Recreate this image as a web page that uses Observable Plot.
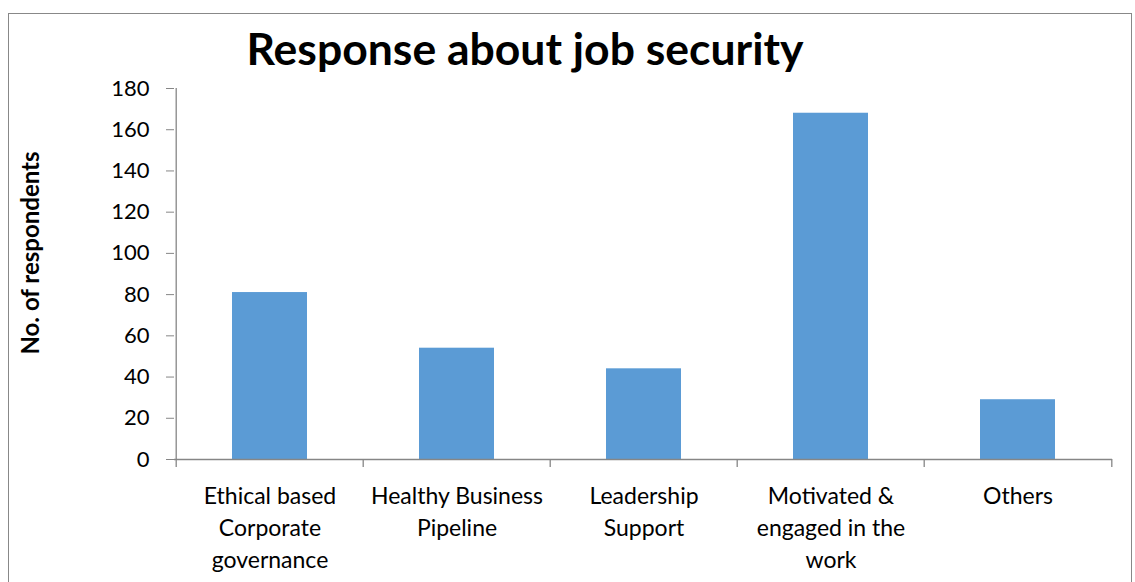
<!DOCTYPE html>
<html><head><meta charset="utf-8">
<script src="https://cdn.jsdelivr.net/npm/d3@7"></script>
<script src="https://cdn.jsdelivr.net/npm/@observablehq/plot@0.6"></script>
<style>
html,body{margin:0;padding:0;background:#fff;}
#wrap{position:relative;width:1135px;height:582px;overflow:hidden;font-family:Lato,"Open Sans",sans-serif;}
#frame{position:absolute;left:8px;top:13px;width:1124px;height:600px;border:1.5px solid #888;box-sizing:border-box;}
#title{position:absolute;left:0;width:1050px;top:20px;text-align:center;font-weight:bold;font-size:44.5px;line-height:56px;color:#000;}
#chart{position:absolute;left:0;top:0;}
</style></head>
<body><div id="wrap"><div id="frame"></div><div id="title">Response about job security</div><div id="chart"></div></div>
<script>
const categories = ["Ethical based Corporate governance","Healthy Business Pipeline","Leadership Support","Motivated & engaged in the work","Others"];
const tickLabels = ["Ethical based\nCorporate\ngovernance","Healthy Business\nPipeline","Leadership\nSupport","Motivated &\nengaged in the\nwork","Others"];
const values = [81, 54, 44, 168, 29];
const yTicks = [0,20,40,60,80,100,120,140,160,180];
const yLabel = "No. of respondents";

const data = categories.map((c,i)=>({category:c, value:values[i]}));
const W = 1135, H = 582, mL = 174, mR = 23;
const step = (W - mL - mR) / categories.length;
const labelOf = new Map(categories.map((c,i)=>[c,tickLabels[i]]));

const plot = Plot.plot({
  width: W, height: H,
  marginLeft: mL, marginRight: mR, marginTop: 88, marginBottom: 123,
  style: {fontFamily: "Lato, 'Open Sans', sans-serif", background: "transparent", color: "#000"},
  x: {domain: categories, paddingInner: 0.6, paddingOuter: 0.3},
  y: {domain: [0,180]},
  marks: [
    Plot.barY(data, {x:"category", y:"value", fill:"#5B9BD5"}),
    Plot.ruleX(categories, {x: d=>d, y1: 0, y2: 0, dx: -step/2, stroke: "#868686", strokeWidth: 1.3, insetBottom: -8}),
    Plot.ruleX([categories[categories.length-1]], {x: d=>d, y1: 0, y2: 0, dx: step/2, stroke: "#868686", strokeWidth: 1.3, insetBottom: -8}),
    Plot.ruleY([0], {stroke:"#868686", strokeWidth:1.3}),
    Plot.ruleX([0], {x: ()=>categories[0], dx: -step/2, y1: 0, y2: 180, stroke:"#868686", strokeWidth:1.3}),
    Plot.axisY({ticks: yTicks, tickSize: 8, tickPadding: 17, fontSize: 22, stroke:"#868686", label: null}),
    Plot.axisX({tickSize: 0, tickPadding: 22, fontSize: 23, lineHeight: 1.39, tickFormat: d=>labelOf.get(d), label: null}),
    Plot.text([yLabel], {frameAnchor:"left", textAnchor:"middle", dx: -143, dy: -21, rotate: -90, fontWeight: "bold", fontSize: 24, text: d=>d})
  ]
});
document.getElementById("chart").appendChild(plot);
</script></body></html>
